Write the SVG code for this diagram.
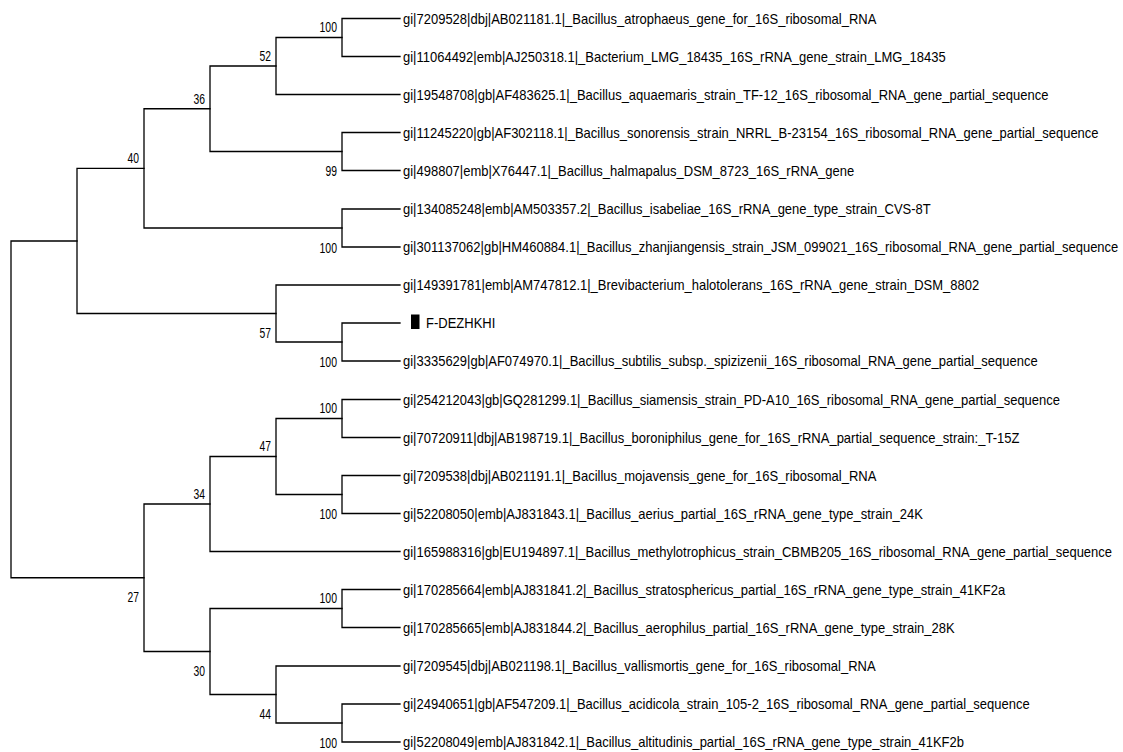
<svg xmlns="http://www.w3.org/2000/svg" width="1123" height="752" viewBox="0 0 1123 752">
<style>
.br{fill:none;stroke:#000;stroke-width:1.3;stroke-linecap:square}
.lf{font-family:"Liberation Sans",Arial,sans-serif;font-size:13px;fill:#000}
.bs{font-family:"Liberation Sans",Arial,sans-serif;font-size:14.5px;fill:#000}
</style>
<rect width="1123" height="752" fill="#fff"/>
<g id="connectors">
<path class="br" d="M342,18.5H400M342,18.5V56.5H400"/>
<path class="br" d="M276,37.5H342M276,37.5V94.5H400"/>
<path class="br" d="M342,132.5H400M342,132.5V170.5H400"/>
<path class="br" d="M210,66H276M210,66V151.5H342"/>
<path class="br" d="M342,209H400M342,209V247H400"/>
<path class="br" d="M144,108.75H210M144,108.75V228H342"/>
<path class="br" d="M342,323H400M342,323V361H400"/>
<path class="br" d="M276,285H400M276,285V342H342"/>
<path class="br" d="M77,168.4H144M77,168.4V313.5H276"/>
<path class="br" d="M342,399.5H400M342,399.5V437.5H400"/>
<path class="br" d="M342,475.5H400M342,475.5V513.5H400"/>
<path class="br" d="M276,418.5H342M276,418.5V494.5H342"/>
<path class="br" d="M210,456.5H276M210,456.5V551.5H400"/>
<path class="br" d="M342,589.5H400M342,589.5V627.5H400"/>
<path class="br" d="M342,704H400M342,704V742H400"/>
<path class="br" d="M276,666H400M276,666V723H342"/>
<path class="br" d="M210,608.5H342M210,608.5V694.5H276"/>
<path class="br" d="M144,504H210M144,504V651.5H210"/>
<path class="br" d="M11,241H77M11,241V577.75H144"/>
</g>
<g id="leaves">
<g id="leaf1"><text class="lf" transform="translate(403,23.8) scale(1,1.15)">gi|7209528|dbj|AB021181.1|_Bacillus_atrophaeus_gene_for_16S_ribosomal_RNA</text></g>
<g id="leaf2"><text class="lf" transform="translate(403,61.8) scale(1,1.15)">gi|11064492|emb|AJ250318.1|_Bacterium_LMG_18435_16S_rRNA_gene_strain_LMG_18435</text></g>
<g id="leaf3"><text class="lf" transform="translate(403,99.8) scale(1,1.15)">gi|19548708|gb|AF483625.1|_Bacillus_aquaemaris_strain_TF-12_16S_ribosomal_RNA_gene_partial_sequence</text></g>
<g id="leaf4"><text class="lf" transform="translate(403,137.8) scale(1,1.15)">gi|11245220|gb|AF302118.1|_Bacillus_sonorensis_strain_NRRL_B-23154_16S_ribosomal_RNA_gene_partial_sequence</text></g>
<g id="leaf5"><text class="lf" transform="translate(403,175.8) scale(1,1.15)">gi|498807|emb|X76447.1|_Bacillus_halmapalus_DSM_8723_16S_rRNA_gene</text></g>
<g id="leaf6"><text class="lf" transform="translate(403,214.3) scale(1,1.15)">gi|134085248|emb|AM503357.2|_Bacillus_isabeliae_16S_rRNA_gene_type_strain_CVS-8T</text></g>
<g id="leaf7"><text class="lf" transform="translate(403,252.3) scale(1,1.15)">gi|301137062|gb|HM460884.1|_Bacillus_zhanjiangensis_strain_JSM_099021_16S_ribosomal_RNA_gene_partial_sequence</text></g>
<g id="leaf8"><text class="lf" transform="translate(403,290.3) scale(1,1.15)">gi|149391781|emb|AM747812.1|_Brevibacterium_halotolerans_16S_rRNA_gene_strain_DSM_8802</text></g>
<g id="leaf9"><rect x="411" y="314.5" width="8.5" height="14.5" fill="#000"/><text class="lf" transform="translate(426,328.3) scale(1,1.15)">F-DEZHKHI</text></g>
<g id="leaf10"><text class="lf" transform="translate(403,366.3) scale(1,1.15)">gi|3335629|gb|AF074970.1|_Bacillus_subtilis_subsp._spizizenii_16S_ribosomal_RNA_gene_partial_sequence</text></g>
<g id="leaf11"><text class="lf" transform="translate(403,404.8) scale(1,1.15)">gi|254212043|gb|GQ281299.1|_Bacillus_siamensis_strain_PD-A10_16S_ribosomal_RNA_gene_partial_sequence</text></g>
<g id="leaf12"><text class="lf" transform="translate(403,442.8) scale(1,1.15)">gi|70720911|dbj|AB198719.1|_Bacillus_boroniphilus_gene_for_16S_rRNA_partial_sequence_strain:_T-15Z</text></g>
<g id="leaf13"><text class="lf" transform="translate(403,480.8) scale(1,1.15)">gi|7209538|dbj|AB021191.1|_Bacillus_mojavensis_gene_for_16S_ribosomal_RNA</text></g>
<g id="leaf14"><text class="lf" transform="translate(403,518.8) scale(1,1.15)">gi|52208050|emb|AJ831843.1|_Bacillus_aerius_partial_16S_rRNA_gene_type_strain_24K</text></g>
<g id="leaf15"><text class="lf" transform="translate(403,556.8) scale(1,1.15)">gi|165988316|gb|EU194897.1|_Bacillus_methylotrophicus_strain_CBMB205_16S_ribosomal_RNA_gene_partial_sequence</text></g>
<g id="leaf16"><text class="lf" transform="translate(403,594.8) scale(1,1.15)">gi|170285664|emb|AJ831841.2|_Bacillus_stratosphericus_partial_16S_rRNA_gene_type_strain_41KF2a</text></g>
<g id="leaf17"><text class="lf" transform="translate(403,632.8) scale(1,1.15)">gi|170285665|emb|AJ831844.2|_Bacillus_aerophilus_partial_16S_rRNA_gene_type_strain_28K</text></g>
<g id="leaf18"><text class="lf" transform="translate(403,671.3) scale(1,1.15)">gi|7209545|dbj|AB021198.1|_Bacillus_vallismortis_gene_for_16S_ribosomal_RNA</text></g>
<g id="leaf19"><text class="lf" transform="translate(403,709.3) scale(1,1.15)">gi|24940651|gb|AF547209.1|_Bacillus_acidicola_strain_105-2_16S_ribosomal_RNA_gene_partial_sequence</text></g>
<g id="leaf20"><text class="lf" transform="translate(403,747.3) scale(1,1.15)">gi|52208049|emb|AJ831842.1|_Bacillus_altitudinis_partial_16S_rRNA_gene_type_strain_41KF2b</text></g>
</g>
<g id="bootstrap">
<g id="nA"><text class="bs" x="319.5" y="32" textLength="17.5" lengthAdjust="spacingAndGlyphs">100</text></g>
<g id="nB"><text class="bs" x="259.5" y="60.5" textLength="11.5" lengthAdjust="spacingAndGlyphs">52</text></g>
<g id="nC"><text class="bs" x="325.5" y="176" textLength="11.5" lengthAdjust="spacingAndGlyphs">99</text></g>
<g id="nD"><text class="bs" x="193.5" y="103.5" textLength="11.5" lengthAdjust="spacingAndGlyphs">36</text></g>
<g id="nE"><text class="bs" x="319.5" y="252.5" textLength="17.5" lengthAdjust="spacingAndGlyphs">100</text></g>
<g id="nF"><text class="bs" x="127.5" y="163" textLength="11.5" lengthAdjust="spacingAndGlyphs">40</text></g>
<g id="nG"><text class="bs" x="319.5" y="366.5" textLength="17.5" lengthAdjust="spacingAndGlyphs">100</text></g>
<g id="nH"><text class="bs" x="259.5" y="338" textLength="11.5" lengthAdjust="spacingAndGlyphs">57</text></g>
<g id="nJ"><text class="bs" x="319.5" y="413" textLength="17.5" lengthAdjust="spacingAndGlyphs">100</text></g>
<g id="nK"><text class="bs" x="319.5" y="519" textLength="17.5" lengthAdjust="spacingAndGlyphs">100</text></g>
<g id="nL"><text class="bs" x="259.5" y="451" textLength="11.5" lengthAdjust="spacingAndGlyphs">47</text></g>
<g id="nM"><text class="bs" x="193.5" y="498.5" textLength="11.5" lengthAdjust="spacingAndGlyphs">34</text></g>
<g id="nN"><text class="bs" x="319.5" y="603" textLength="17.5" lengthAdjust="spacingAndGlyphs">100</text></g>
<g id="nO"><text class="bs" x="319.5" y="747.5" textLength="17.5" lengthAdjust="spacingAndGlyphs">100</text></g>
<g id="nP"><text class="bs" x="259.5" y="719" textLength="11.5" lengthAdjust="spacingAndGlyphs">44</text></g>
<g id="nQ"><text class="bs" x="193.5" y="676" textLength="11.5" lengthAdjust="spacingAndGlyphs">30</text></g>
<g id="nR"><text class="bs" x="127.5" y="602.3" textLength="11.5" lengthAdjust="spacingAndGlyphs">27</text></g>
</g>
</svg>
